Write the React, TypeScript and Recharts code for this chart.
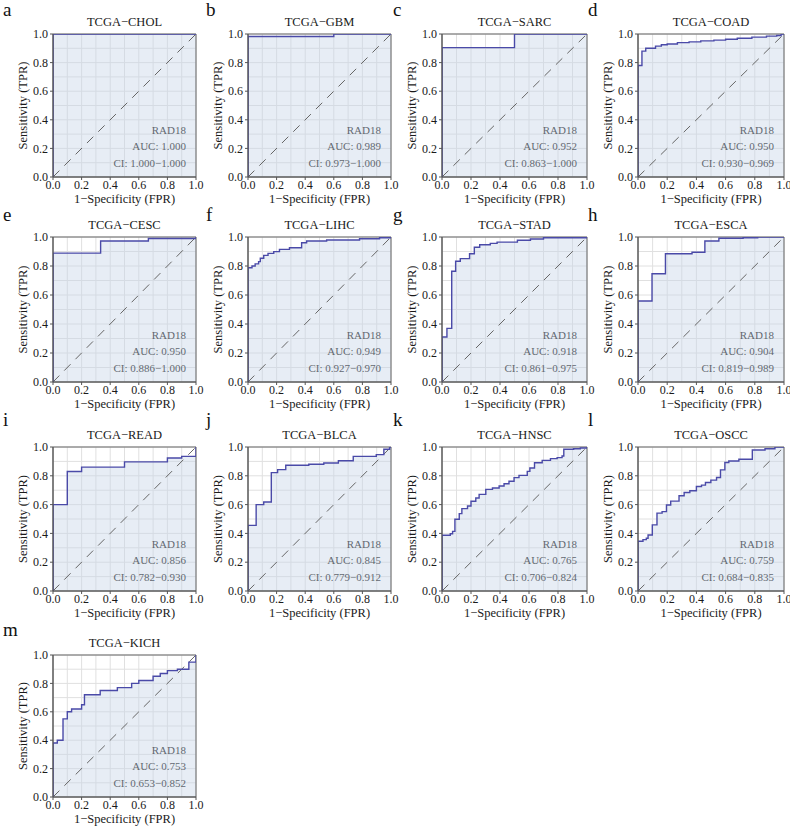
import { ComposedChart, Area, Line, XAxis, YAxis, CartesianGrid, ReferenceLine, ReferenceArea } from "recharts";

const FONT = '"Liberation Serif", "Times New Roman", Times, serif';
const CURVE = "#4a4aa8";
const TEXT = "#1a1a1a";

// ROC corners as [FPR, TPR]; each level holds until the next FPR (step after)
const CHOL: [number, number][] = [[0, 0], [0, 1], [1, 1]];
const GBM: [number, number][] = [[0, 0], [0, 0.982], [0.6, 1], [1, 1]];
const SARC: [number, number][] = [[0, 0], [0, 0.905], [0.5, 1], [1, 1]];
const COAD: [number, number][] = [
  [0, 0], [0, 0.78], [0.027, 0.88], [0.053, 0.9], [0.12, 0.915], [0.16, 0.925], [0.2, 0.93],
  [0.27, 0.94], [0.35, 0.945], [0.43, 0.952], [0.52, 0.957], [0.6, 0.963], [0.68, 0.97],
  [0.78, 0.978], [0.88, 0.985], [0.95, 0.99], [0.98, 1], [1, 1],
];
const CESC: [number, number][] = [[0, 0], [0, 0.889], [0.333, 0.972], [0.667, 0.99], [1, 1]];
const LIHC: [number, number][] = [
  [0, 0], [0, 0.788], [0.028, 0.8], [0.05, 0.815], [0.074, 0.83], [0.086, 0.853], [0.11, 0.873],
  [0.14, 0.887], [0.18, 0.899], [0.22, 0.915], [0.29, 0.926], [0.375, 0.96], [0.41, 0.972],
  [0.55, 0.979], [0.78, 0.988], [0.92, 0.995], [1, 1],
];
const STAD: [number, number][] = [
  [0, 0], [0, 0.31], [0.034, 0.37], [0.067, 0.764], [0.094, 0.833], [0.126, 0.851], [0.19, 0.885],
  [0.223, 0.929], [0.26, 0.947], [0.333, 0.956], [0.38, 0.965], [0.52, 0.978], [0.61, 0.986],
  [0.7, 0.995], [1, 1],
];
const ESCA: [number, number][] = [
  [0, 0], [0, 0.559], [0.096, 0.747], [0.188, 0.885], [0.37, 0.895], [0.458, 0.972],
  [0.554, 0.991], [0.72, 0.995], [0.82, 1], [1, 1],
];
const READ: [number, number][] = [
  [0, 0], [0, 0.6], [0.1, 0.83], [0.2, 0.86], [0.5, 0.897], [0.8, 0.924], [0.9, 0.935], [1, 1],
];
const BLCA: [number, number][] = [
  [0, 0], [0, 0.456], [0.057, 0.6], [0.11, 0.618], [0.163, 0.822], [0.207, 0.843], [0.264, 0.873],
  [0.425, 0.88], [0.53, 0.889], [0.632, 0.905], [0.736, 0.935], [0.897, 0.947], [0.95, 0.984],
  [0.99, 1], [1, 1],
];
const HNSC: [number, number][] = [
  [0, 0], [0, 0.387], [0.057, 0.398], [0.073, 0.414], [0.089, 0.498], [0.119, 0.537], [0.137, 0.572],
  [0.176, 0.59], [0.2, 0.623], [0.233, 0.646], [0.256, 0.671], [0.302, 0.706], [0.348, 0.715],
  [0.394, 0.729], [0.428, 0.745], [0.462, 0.762], [0.497, 0.787], [0.531, 0.803], [0.588, 0.831],
  [0.606, 0.854], [0.638, 0.891], [0.691, 0.907], [0.748, 0.919], [0.794, 0.926], [0.828, 0.938],
  [0.84, 0.984], [0.908, 0.988], [0.954, 0.993], [1, 1],
];
const OSCC: [number, number][] = [
  [0, 0], [0, 0.346], [0.034, 0.357], [0.057, 0.366], [0.069, 0.389], [0.098, 0.459], [0.13, 0.541],
  [0.165, 0.551], [0.195, 0.597], [0.224, 0.624], [0.281, 0.661], [0.316, 0.684], [0.355, 0.696],
  [0.4, 0.726], [0.435, 0.735], [0.462, 0.753], [0.499, 0.77], [0.538, 0.788], [0.565, 0.841],
  [0.595, 0.892], [0.622, 0.903], [0.691, 0.915], [0.783, 0.979], [0.87, 0.988], [0.938, 1], [1, 1],
];
const KICH: [number, number][] = [
  [0, 0], [0, 0.38], [0.03, 0.4], [0.07, 0.55], [0.1, 0.6], [0.13, 0.62], [0.2, 0.65], [0.22, 0.72],
  [0.33, 0.75], [0.45, 0.77], [0.55, 0.8], [0.6, 0.82], [0.7, 0.85], [0.75, 0.87], [0.8, 0.89],
  [0.87, 0.9], [0.95, 0.95], [1, 1],
];

const curves = [CHOL, GBM, SARC, COAD, CESC, LIHC, STAD, ESCA, READ, BLCA, HNSC, OSCC, KICH];
const letters = ["a", "b", "c", "d", "e", "f", "g", "h", "i", "j", "k", "l", "m"];
const titles = [
  "TCGA−CHOL", "TCGA−GBM", "TCGA−SARC", "TCGA−COAD", "TCGA−CESC", "TCGA−LIHC", "TCGA−STAD",
  "TCGA−ESCA", "TCGA−READ", "TCGA−BLCA", "TCGA−HNSC", "TCGA−OSCC", "TCGA−KICH",
];
const aucs = ["1.000", "0.989", "0.952", "0.950", "0.950", "0.949", "0.918", "0.904", "0.856", "0.845", "0.765", "0.759", "0.753"];
const cis = [
  "1.000−1.000", "0.973−1.000", "0.863−1.000", "0.930−0.969", "0.886−1.000", "0.927−0.970",
  "0.861−0.975", "0.819−0.989", "0.782−0.930", "0.779−0.912", "0.706−0.824", "0.684−0.835",
  "0.653−0.852",
];
const axisTicks = [0, 0.2, 0.4, 0.6, 0.8, 1];
const gridLines = [0, 0.1, 0.2, 0.3, 0.4, 0.5, 0.6, 0.7, 0.8, 0.9, 1];

// grid layout (page pixels of each plot area)
const colLeft = [53, 248, 442, 638];
const colWidth = [143, 143, 145, 146];
const rowTop = [34, 237, 447, 655];
const rowHeight = [143, 145, 144, 142];
const letterX = [3, 206, 393, 588];
const letterY = [16, 221, 426, 636];

const PAD_L = 53;
const PAD_T = 42;
const PAD_R = 14;
const PAD_B = 36;

function RocPanel({ idx }: { idx: number }) {
  const col = idx % 4;
  const row = Math.floor(idx / 4);
  const pw = colWidth[col];
  const ph = rowHeight[row];
  const left = colLeft[col] - PAD_L;
  const top = rowTop[row] - PAD_T;
  const data = curves[idx].map(([fpr, tpr]) => ({ fpr, tpr }));
  const tick = { fontSize: 12, fill: TEXT, style: { fontFamily: FONT } };
  const plotRight = PAD_L + pw;
  const plotBottom = PAD_T + ph;
  const serif = { fontFamily: FONT };

  return (
    <div style={{ position: "absolute", left, top }}>
      <ComposedChart
        width={PAD_L + pw + PAD_R}
        height={PAD_T + ph + PAD_B}
        data={data}
        margin={{ top: PAD_T, right: PAD_R, left: 0, bottom: PAD_B - 30 }}
        style={serif}
      >
        <CartesianGrid horizontalValues={gridLines} verticalValues={gridLines} stroke="#e0e0e0" />
        <XAxis
          type="number"
          dataKey="fpr"
          domain={[0, 1]}
          ticks={axisTicks}
          interval={0}
          height={30}
          tickSize={3}
          tickMargin={0}
          tickFormatter={(v: number) => v.toFixed(1)}
          tick={tick}
          stroke="#555"
          allowDataOverflow
        />
        <YAxis
          type="number"
          domain={[0, 1]}
          ticks={axisTicks}
          interval={0}
          width={PAD_L}
          tickSize={3}
          tickMargin={2}
          tickFormatter={(v: number) => v.toFixed(1)}
          tick={tick}
          stroke="#555"
          allowDataOverflow
        />
        <Area
          type="stepAfter"
          dataKey="tpr"
          stroke="none"
          fill="#c6d4e8"
          fillOpacity={0.42}
          isAnimationActive={false}
        />
        <ReferenceArea x1={0} x2={1} y1={0} y2={1} fill="none" stroke="#666" strokeWidth={1} />
        <ReferenceLine
          segment={[{ x: 0, y: 0 }, { x: 1, y: 1 }]}
          stroke="#666"
          strokeDasharray="9 7"
        />
        <Line
          type="stepAfter"
          dataKey="tpr"
          stroke={CURVE}
          strokeWidth={1.4}
          dot={false}
          activeDot={false}
          isAnimationActive={false}
        />
        <text x={letterX[col] - left} y={letterY[row] - top} fontSize={19} style={serif} fill="#111">
          {letters[idx]}
        </text>
        <text x={PAD_L + pw / 2} y={PAD_T - 8} textAnchor="middle" fontSize={12.5} style={serif} fill={TEXT}>
          {titles[idx]}
        </text>
        <text x={PAD_L + pw / 2} y={plotBottom + 26} textAnchor="middle" fontSize={12.5} style={serif} fill={TEXT}>
          1−Specificity (FPR)
        </text>
        <text
          x={27}
          y={PAD_T + ph / 2}
          transform={`rotate(-90, 27, ${PAD_T + ph / 2})`}
          textAnchor="middle"
          fontSize={12.5}
          style={serif}
          fill={TEXT}
        >
          Sensitivity (TPR)
        </text>
        <text x={plotRight - 10} y={plotBottom - 43} textAnchor="end" fontSize={11} style={serif} fill="#111">
          RAD18
        </text>
        <text x={plotRight - 10} y={plotBottom - 27} textAnchor="end" fontSize={11} style={serif} fill="#111">
          AUC: {aucs[idx]}
        </text>
        <text x={plotRight - 10} y={plotBottom - 10} textAnchor="end" fontSize={11} style={serif} fill="#111">
          CI: {cis[idx]}
        </text>
      </ComposedChart>
    </div>
  );
}

export default function App() {
  return (
    <div style={{ position: "absolute", left: 0, top: 0, width: 790, height: 829, background: "#fff", fontFamily: FONT }}>
      {curves.map((_, i) => (
        <RocPanel key={i} idx={i} />
      ))}
    </div>
  );
}
